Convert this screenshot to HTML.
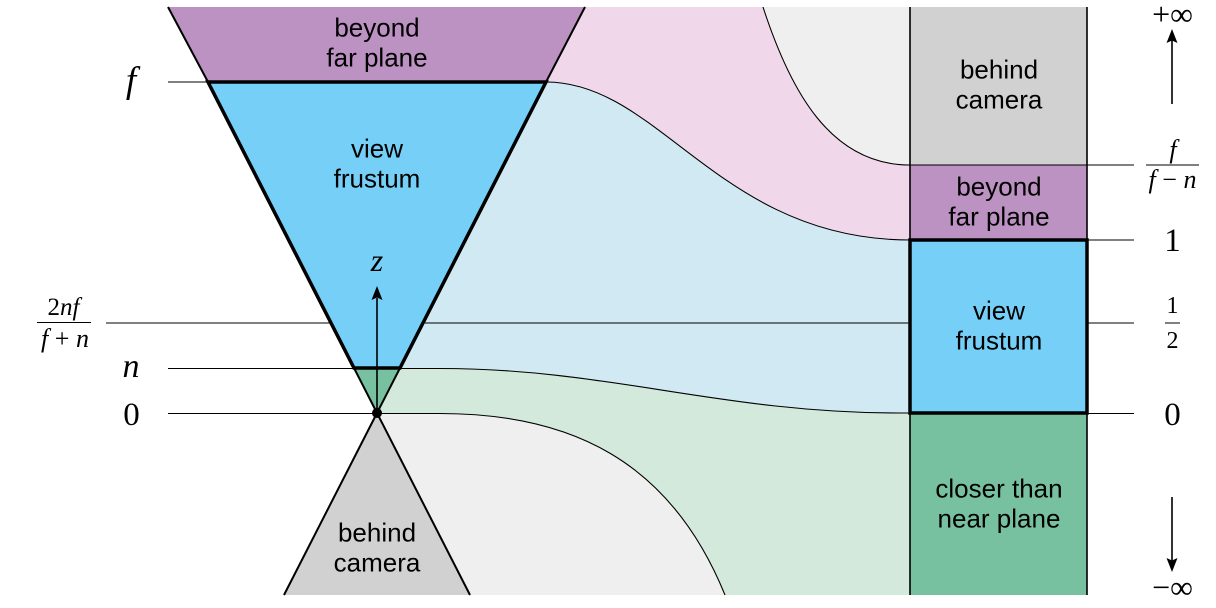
<!DOCTYPE html>
<html><head><meta charset="utf-8"><style>
html,body{margin:0;padding:0;background:#fff}
svg{display:block}
.s{font-family:"Liberation Sans",sans-serif;font-size:26px;fill:#000;text-anchor:middle}
.m{font-family:"Liberation Serif",serif;fill:#000;text-anchor:middle}
.i{font-style:italic}
</style></head><body>
<svg width="1216" height="608" viewBox="0 0 1216 608" xmlns="http://www.w3.org/2000/svg">
<!-- bands -->
<path d="M763 7H910V165C830 165 790 90 763 7Z" fill="#efefef"/>
<path d="M585 7H763C790 90 830 165 910 165V240C720 240 660 82 546 82Z" fill="#f0d8ea"/>
<path d="M546 82C660 82 720 240 910 240V413H900C720 413 610 368 440 368H400Z" fill="#d0e9f2"/>
<path d="M400 368H440C610 368 720 413 900 413H910V595H725C670 460 570 413 440 413H377Z" fill="#d2e9db"/>
<path d="M377 413H440C570 413 670 460 725 595H470Z" fill="#efefef"/>
<!-- frustum -->
<path d="M168 7H585L546 82H208Z" fill="#bc92c2"/>
<path d="M208 82H546L400 368H354Z" fill="#75cff7"/>
<path d="M354 368H400L377 413Z" fill="#78c1a0"/>
<path d="M377 413L470 595H284Z" fill="#d1d1d1"/>
<!-- right column -->
<rect x="910" y="7" width="177" height="158" fill="#d1d1d1"/>
<rect x="910" y="165" width="177" height="75" fill="#bc92c2"/>
<rect x="910" y="240" width="177" height="173" fill="#75cff7"/>
<rect x="910" y="413" width="177" height="182" fill="#78c1a0"/>
<!-- thin lines -->
<g fill="none" stroke="#000" stroke-width="1.1">
<path d="M763 7C790 90 830 165 910 165"/>
<path d="M546 82C660 82 720 240 910 240"/>
<path d="M400 368.500H440C610 368.500 720 413 900 413H910"/>
<path d="M377 413.500H440C570 413.500 670 460 725 595"/>
<path d="M168 82H208M106 323H331M425 323H910M1087 323H1134M168 368.500H354M168 413.500H377M1087 413.500H1134M1087 240H1134M1087 165H1134M910 165H1087"/>
<path d="M1146 165H1199M1165 323H1180M37 322.500H91"/>
</g>
<g fill="none" stroke="#000" stroke-width="1.6">
<path d="M910 7V595M1087 7V595"/>
<path d="M377 298V413M1172 38V104M1172 497V562"/>
</g>
<g fill="none" stroke="#000" stroke-width="2">
<path d="M168 7L208 82M585 7L546 82M354 368L377 413L400 368M377 413L284 595M377 413L470 595"/>
</g>
<!-- thick lines -->
<g fill="none" stroke="#000" stroke-width="3.500">
<path d="M208 82H546L400 368H354Z" stroke-linejoin="miter"/>
<rect x="910" y="240" width="177" height="173"/>
</g>
<circle cx="377" cy="413" r="5" fill="#000"/>
<path d="M377 286L382.500 300L377 297.500L371.500 300Z M1172 29L1177.500 43L1172 40.500L1166.500 43Z M1172 572L1177.500 558L1172 560.500L1166.500 558Z" fill="#000"/>
<!-- sans labels -->
<text class="s" x="377" y="36.500">beyond</text>
<text class="s" x="377" y="66.500">far plane</text>
<text class="s" x="377" y="157.500">view</text>
<text class="s" x="377" y="187.500">frustum</text>
<text class="s" x="377" y="541.500">behind</text>
<text class="s" x="377" y="571.500">camera</text>
<text class="s" x="999" y="78.500">behind</text>
<text class="s" x="999" y="108.500">camera</text>
<text class="s" x="999" y="195.500">beyond</text>
<text class="s" x="999" y="225.500">far plane</text>
<text class="s" x="999" y="319.500">view</text>
<text class="s" x="999" y="349.500">frustum</text>
<text class="s" x="999" y="497.500">closer than</text>
<text class="s" x="999" y="527.500">near plane</text>
<!-- math labels -->
<text class="m i" x="131" y="92" font-size="37">f</text>
<text class="m i" x="131" y="377" font-size="34">n</text>
<text class="m" x="131.500" y="425" font-size="33">0</text>
<text class="m i" x="377" y="271" font-size="32">z</text>
<text class="m" x="63.500" y="315" font-size="25">2<tspan class="i">nf</tspan></text>
<text class="m" x="65" y="347" font-size="26"><tspan class="i">f</tspan> + <tspan class="i">n</tspan></text>
<text class="m" x="1172.500" y="25" font-size="32">+∞</text>
<text class="m i" x="1173" y="158" font-size="26">f</text>
<text class="m" x="1172.500" y="188" font-size="26"><tspan class="i">f</tspan> − <tspan class="i">n</tspan></text>
<text class="m" x="1172.500" y="251" font-size="33">1</text>
<text class="m" x="1172.500" y="313" font-size="24">1</text>
<text class="m" x="1172.500" y="348" font-size="24">2</text>
<text class="m" x="1172.500" y="425" font-size="33">0</text>
<text class="m" x="1172.500" y="598" font-size="32">−∞</text>
</svg>
</body></html>
